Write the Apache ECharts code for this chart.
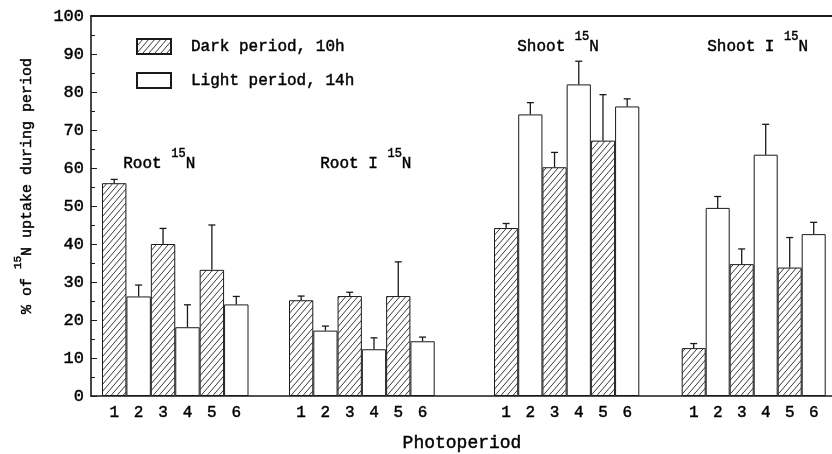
<!DOCTYPE html>
<html>
<head>
<meta charset="utf-8">
<script src="https://cdn.jsdelivr.net/npm/echarts@6/dist/echarts.min.js"></script>
<style>
  html, body { margin: 0; padding: 0; background: #fff; }
  #chart { width: 832px; height: 454px; }
</style>
</head>
<body>
<div id="chart"></div>
<script>
// Photoperiod labels on each group's x axis
const periods = ['1', '2', '3', '4', '5', '6'];

// Group titles (text before the superscript "15" and the trailing "N")
const groupTitles = ['Root', 'Root I', 'Shoot', 'Shoot I'];

// Mean % of 15N uptake for periods 1..6 (odd = dark, even = light)
const rootMean   = [56.0, 26.2, 40.0, 18.1, 33.2, 24.1];
const rootIMean  = [25.2, 17.2, 26.3, 12.3, 26.3, 14.4];
const shootMean  = [44.2, 74.1, 60.2, 82.0, 67.2, 76.2];
const shootIMean = [12.6, 49.5, 34.7, 63.5, 33.8, 42.6];

// Upper error (SE) for each bar
const rootErr   = [1.0, 3.0, 4.1, 5.9, 11.8, 2.1];
const rootIErr  = [1.1, 1.2, 1.0, 3.0, 9.0, 1.1];
const shootErr  = [1.2, 3.1, 3.9, 6.1, 12.1, 2.0];
const shootIErr = [1.2, 3.0, 4.0, 8.0, 7.9, 3.1];

// Y axis range
const yMin = 0, yMax = 100, yStep = 10;

const seriesNames = ['Dark period, 10h', 'Light period, 14h'];

const means = [rootMean, rootIMean, shootMean, shootIMean];
const errs = [rootErr, rootIErr, shootErr, shootIErr];

// ---- layout (pixels) ----
const plotTop = 16, plotBottom = 58;
const groupBoxes = [
  { left: 102, width: 146.5 },
  { left: 289, width: 145.7 },
  { left: 494, width: 145.3 },
  { left: 681.7, width: 144 }
];
const titlePos = [
  { x: 123, y: 162 },
  { x: 320, y: 162 },
  { x: 517, y: 45 },
  { x: 707, y: 45 }
];
const FONT = '"Liberation Mono", "Courier New", monospace';
const INK = '#1a1a1a';
// slight outline to give the typewriter glyphs more weight
const THICK = { textBorderColor: '#000', textBorderWidth: 0.45 };   // echarts label style
const THICK_Z = { stroke: '#000', lineWidth: 0.45 };                // zrender text style

// Diagonal hatch tile for the dark-period bars
function makeHatch() {
  const w = 6, h = 7;
  const c = document.createElement('canvas');
  c.width = w; c.height = h;
  const ctx = c.getContext('2d');
  ctx.fillStyle = '#fff';
  ctx.fillRect(0, 0, w, h);
  ctx.strokeStyle = '#222';
  ctx.lineWidth = 0.9;
  for (const dx of [-w, 0, w]) {
    ctx.beginPath();
    ctx.moveTo(dx, h);
    ctx.lineTo(dx + w, 0);
    ctx.stroke();
  }
  return { image: c, repeat: 'repeat' };
}
const hatch = makeHatch();

const chart = echarts.init(document.getElementById('chart'), null, { renderer: 'canvas' });

const grids = [];
const xAxes = [];
const yAxes = [];
const series = [];

// Frame grid: left axis with ticks, bottom and top lines
grids.push({ left: 91, right: 0, top: plotTop, bottom: plotBottom, containLabel: false });
xAxes.push({
  gridIndex: 0, type: 'value', min: 0, max: 1, position: 'bottom',
  axisLine: { show: true, onZero: false, lineStyle: { color: INK, width: 1.6 } },
  axisTick: { show: false }, axisLabel: { show: false }, splitLine: { show: false }
});
xAxes.push({
  gridIndex: 0, type: 'value', min: 0, max: 1, position: 'top',
  axisLine: { show: true, onZero: false, lineStyle: { color: INK, width: 1.8 } },
  axisTick: { show: false }, axisLabel: { show: false }, splitLine: { show: false }
});
yAxes.push({
  gridIndex: 0, type: 'value', min: yMin, max: yMax, interval: yStep,
  axisLine: { show: true, lineStyle: { color: INK, width: 1.6 } },
  axisTick: { show: true, inside: true, length: 6, lineStyle: { color: INK, width: 1 } },
  minorTick: { show: true, splitNumber: 2, length: 4, lineStyle: { color: INK, width: 1 } },
  splitLine: { show: false },
  axisLabel: Object.assign({ color: '#000', fontFamily: FONT, fontSize: 17, margin: 7 }, THICK)
});

// One grid per tissue group, sharing the y scale
groupBoxes.forEach((box, g) => {
  const gi = g + 1;
  grids.push({ left: box.left, width: box.width, top: plotTop, bottom: plotBottom, containLabel: false });
  xAxes.push({
    gridIndex: gi, type: 'category', data: periods, boundaryGap: true,
    axisLine: { show: false }, axisTick: { show: false }, splitLine: { show: false },
    axisLabel: Object.assign({ color: '#000', fontFamily: FONT, fontSize: 16, margin: 9 }, THICK)
  });
  yAxes.push({ gridIndex: gi, type: 'value', min: yMin, max: yMax, show: false });

  const m = means[g], e = errs[g];
  series.push({
    name: seriesNames[0], type: 'bar', xAxisIndex: gi + 1, yAxisIndex: gi,
    barWidth: '100%', barGap: '-100%',
    itemStyle: { color: hatch, borderColor: INK, borderWidth: 1 },
    data: m.map((v, k) => (k % 2 === 0 ? v : '-'))
  });
  series.push({
    name: seriesNames[1], type: 'bar', xAxisIndex: gi + 1, yAxisIndex: gi,
    barWidth: '100%', barGap: '-100%',
    itemStyle: { color: '#fff', borderColor: INK, borderWidth: 1 },
    data: m.map((v, k) => (k % 2 === 1 ? v : '-'))
  });
  series.push({
    type: 'custom', xAxisIndex: gi + 1, yAxisIndex: gi, z: 5,
    data: m.map((v, k) => [k, v, v + e[k]]),
    renderItem: function (params, api) {
      const base = api.coord([api.value(0), api.value(1)]);
      const top = api.coord([api.value(0), api.value(2)]);
      const half = 3.5;
      const st = { stroke: INK, lineWidth: 1.3 };
      return {
        type: 'group',
        children: [
          { type: 'line', shape: { x1: base[0], y1: base[1], x2: top[0], y2: top[1] }, style: st },
          { type: 'line', shape: { x1: top[0] - half, y1: top[1], x2: top[0] + half, y2: top[1] }, style: st }
        ]
      };
    }
  });
});

const graphics = [];
groupTitles.forEach((t, g) => {
  graphics.push({
    type: 'text', left: titlePos[g].x, top: titlePos[g].y - 14,
    style: {
      text: '{a|' + t + ' }{s|15}{a|N}',
      rich: {
        a: Object.assign({ fontFamily: FONT, fontSize: 16, fill: '#000', lineHeight: 24, verticalAlign: 'bottom' }, THICK_Z),
        s: Object.assign({ fontFamily: FONT, fontSize: 12, fill: '#000', lineHeight: 24, verticalAlign: 'top' }, THICK_Z)
      }
    }
  });
});
graphics.push({
  type: 'text', x: 462, y: 443,
  style: Object.assign({ text: 'Photoperiod', fontFamily: FONT, fontSize: 18, fill: '#000', align: 'center', verticalAlign: 'middle' }, THICK_Z)
});
graphics.push({
  type: 'text', x: 24, y: 186, rotation: Math.PI / 2,
  style: {
    text: '{a|% of }{s|15}{a|N uptake during period}',
    align: 'center', verticalAlign: 'middle',
    rich: {
      a: Object.assign({ fontFamily: FONT, fontSize: 15, fill: '#000', lineHeight: 22, verticalAlign: 'bottom' }, THICK_Z),
      s: Object.assign({ fontFamily: FONT, fontSize: 11, fill: '#000', lineHeight: 22, verticalAlign: 'top' }, THICK_Z)
    }
  }
});

chart.setOption({
  animation: false,
  backgroundColor: '#fff',
  grid: grids,
  xAxis: xAxes,
  yAxis: yAxes,
  legend: {
    data: seriesNames,
    orient: 'vertical', left: 131, top: 33,
    itemWidth: 34, itemHeight: 15, itemGap: 17,
    icon: 'rect',
    selectedMode: false,
    formatter: name => '{p|' + name + '}',
    textStyle: Object.assign({
      color: '#000', fontFamily: FONT, fontSize: 16,
      rich: { p: Object.assign({ fontFamily: FONT, fontSize: 16, padding: [0, 0, 0, 15] }, THICK) }
    }, THICK)
  },
  series: series,
  graphic: graphics
});
</script>
</body>
</html>
